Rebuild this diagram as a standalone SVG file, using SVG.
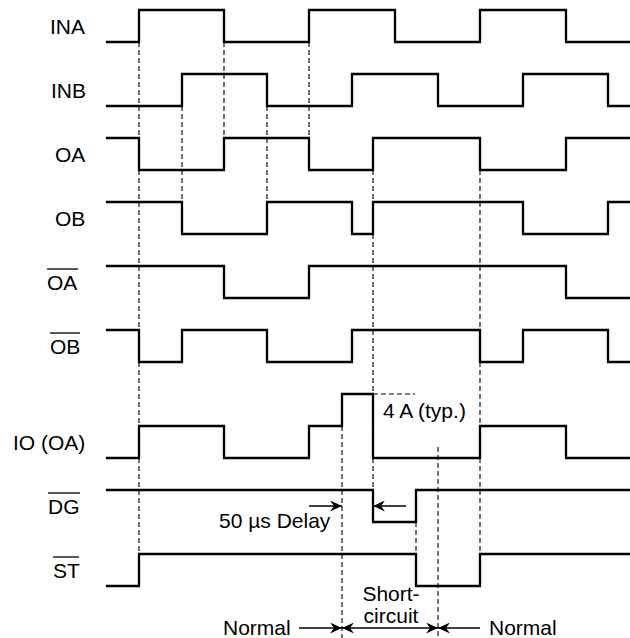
<svg xmlns="http://www.w3.org/2000/svg" width="630" height="638" viewBox="0 0 630 638">
<defs>
<style>
.w{fill:none;stroke:#000;stroke-width:2.3;stroke-linejoin:miter;stroke-linecap:square}
.d{fill:none;stroke:#000;stroke-width:1.1;stroke-dasharray:5,3}
.a{fill:none;stroke:#000;stroke-width:1.3}
.ov{stroke:#000;stroke-width:1.3}
text{font-family:"Liberation Sans",Arial,sans-serif;font-size:21px;fill:#000}
</style>
<marker id="ah" markerUnits="userSpaceOnUse" markerWidth="13" markerHeight="11" refX="12" refY="5.5" orient="auto-start-reverse">
<path d="M12,5.5 L0,0 L4,5.5 L0,11 Z" fill="#000"/>
</marker>
</defs>
<rect width="630" height="638" fill="#fff"/>
<g id="connectors">
<path class="d" d="M139,42V554M182,106V202M224,42V138M267,106V202M309,42V138M373,170V490M480,170V554M342,426V638M416,522V554M438,447V638M373,394H415"/>
<path class="a" d="M309,506H342" marker-end="url(#ah)"/>
<path class="a" d="M406,506H373" marker-end="url(#ah)"/>
<path class="a" d="M299,628H342" marker-end="url(#ah)"/>
<path class="a" d="M342,628H438" marker-start="url(#ah)" marker-end="url(#ah)"/>
<path class="a" d="M480,628H438" marker-end="url(#ah)"/>
</g>
<g id="INA"><text x="50" y="34">INA</text><path class="w" d="M107,42H139V10H224V42H309V10H395V42H480V10H566V42H630"/></g>
<g id="INB"><text x="51" y="98">INB</text><path class="w" d="M107,106H182V74H267V106H352V74H438V106H523V74H608V106H630"/></g>
<g id="OA"><text x="55" y="162">OA</text><path class="w" d="M107,138H139V170H224V138H309V170H373V138H480V170H566V138H630"/></g>
<g id="OB"><text x="55" y="226">OB</text><path class="w" d="M107,202H182V234H267V202H352V234H373V202H523V234H608V202H630"/></g>
<g id="OA_bar"><text x="47" y="290">OA</text><line class="ov" x1="47" y1="269" x2="78" y2="269"/><path class="w" d="M107,266H224V298H309V266H566V298H630"/></g>
<g id="OB_bar"><text x="50" y="354">OB</text><line class="ov" x1="50" y1="333" x2="80" y2="333"/><path class="w" d="M107,330H139V362H182V330H267V362H352V330H480V362H523V330H608V362H630"/></g>
<g id="IO_OA"><text x="13" y="450">IO (OA)</text><path class="w" d="M107,458H139V426H224V458H309V426H342V394H373V458H480V426H566V458H630"/><text x="383" y="418">4 A (typ.)</text></g>
<g id="DG_bar"><text x="48" y="514">DG</text><line class="ov" x1="48" y1="493" x2="80" y2="493"/><path class="w" d="M107,490H373V522H416V490H630"/><text x="219" y="528">50 µs Delay</text></g>
<g id="ST_bar"><text x="53" y="578">ST</text><line class="ov" x1="53" y1="557" x2="79" y2="557"/><path class="w" d="M107,586H139V554H416V586H480V554H630"/></g>
<g id="labels">
<text x="223" y="635">Normal</text>
<text x="391" y="601" text-anchor="middle">Short-</text>
<text x="391" y="623" text-anchor="middle">circuit</text>
<text x="489" y="635">Normal</text>
</g>
</svg>
